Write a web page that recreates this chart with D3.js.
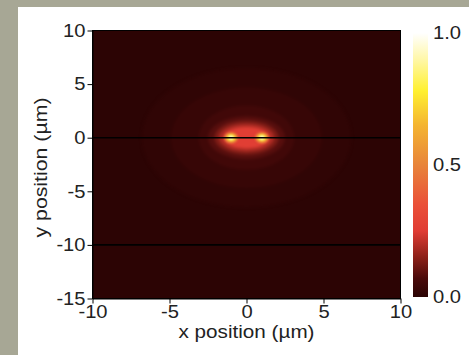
<!DOCTYPE html>
<html><head><meta charset="utf-8">
<script src="https://cdn.jsdelivr.net/npm/d3@7"></script>
<style>html,body{margin:0;padding:0;background:#a7a795;} svg{display:block}</style>
</head><body>
<svg id="chart" width="469" height="355"></svg>
<script>
// Axis domains and tick values (µm)
const xDomain = [-10, 10];
const yDomain = [-15, 10];
const xTicks = [-10, -5, 0, 5, 10];
const yTicks = [-15, -10, -5, 0, 5, 10];
const barTicks = [0, 0.5, 1];
const barTickLabels = ["0.0", "0.5", "1.0"];

// Horizontal material interfaces (y in µm)
const interfaceY = [0, -10];

// Normalised intensity: nested elliptical bands centred on the origin
const glowRx = [6.8, 4.9, 3.1, 2.5, 2.1, 1.8, 1.5];
const glowRy = [6.5, 4.7, 3.0, 2.0, 1.6, 1.3, 1.0];
const glowLevel = [0.014, 0.028, 0.05, 0.085, 0.13, 0.19, 0.26];
const backgroundLevel = 0.005;

// Two hot spots on the interface
const spotX = [-1, 1];
const spotRx = [0.44, 0.29, 0.15];
const spotRy = [0.52, 0.35, 0.2];
const spotLevel = [0.5, 0.76, 0.95];

// Colour map stops
const cmapPos = [0, 0.07, 0.15, 0.25, 0.35, 0.5, 0.65, 0.78, 0.9, 1];
const cmapColor = ["#2a0404", "#4a0a0a", "#8c2018", "#e03c34", "#ea5038",
                   "#e8843a", "#f4b430", "#fff030", "#fff7a8", "#ffffff"];

const W = 469, H = 355;
const plot = {left: 92.5, right: 400.5, top: 30.5, bottom: 298.5};
const bar = {left: 413, right: 428, top: 33, bottom: 297};
const FONT = "'Liberation Sans', Arial, sans-serif";
const STRETCH = 1.12;

const svg = d3.select("#chart");
const x = d3.scaleLinear().domain(xDomain).range([plot.left, plot.right]);
const y = d3.scaleLinear().domain(yDomain).range([plot.bottom, plot.top]);
const color = d3.scaleLinear().domain(cmapPos).range(cmapColor).interpolate(d3.interpolateRgb).clamp(true);

// White panel on the grey page
svg.append("rect").attr("x", 18).attr("y", 7).attr("width", W - 18).attr("height", H - 7).attr("fill", "#ffffff");

const defs = svg.append("defs");
defs.append("clipPath").attr("id", "plotClip")
  .append("rect").attr("x", plot.left).attr("y", plot.top)
  .attr("width", plot.right - plot.left).attr("height", plot.bottom - plot.top);
defs.append("filter").attr("id", "soft").attr("x", "-50%").attr("y", "-50%").attr("width", "200%").attr("height", "200%")
  .attr("color-interpolation-filters", "sRGB")
  .append("feGaussianBlur").attr("stdDeviation", 1.6);
defs.append("filter").attr("id", "softSpot").attr("x", "-100%").attr("y", "-100%").attr("width", "300%").attr("height", "300%")
  .attr("color-interpolation-filters", "sRGB")
  .append("feGaussianBlur").attr("stdDeviation", 0.8);

const field = svg.append("g").attr("clip-path", "url(#plotClip)");
field.append("rect").attr("x", plot.left).attr("y", plot.top)
  .attr("width", plot.right - plot.left).attr("height", plot.bottom - plot.top)
  .attr("fill", color(backgroundLevel));

const glow = glowRx.map((rx, i) => ({rx, ry: glowRy[i], v: glowLevel[i]}));
field.append("g").attr("filter", "url(#soft)")
  .selectAll("ellipse").data(glow).join("ellipse")
  .attr("cx", x(0)).attr("cy", y(0))
  .attr("rx", d => x(d.rx) - x(0))
  .attr("ry", d => y(0) - y(d.ry))
  .attr("fill", d => color(d.v));

const spots = [];
spotX.forEach(cx => spotRx.forEach((rx, i) => spots.push({cx, rx, ry: spotRy[i], v: spotLevel[i]})));
field.append("g").attr("filter", "url(#softSpot)")
  .selectAll("ellipse").data(spots).join("ellipse")
  .attr("cx", d => x(d.cx)).attr("cy", y(0))
  .attr("rx", d => x(d.rx) - x(0))
  .attr("ry", d => y(0) - y(d.ry))
  .attr("fill", d => color(d.v));

field.selectAll("line.iface").data(interfaceY).join("line").attr("class", "iface")
  .attr("x1", plot.left).attr("x2", plot.right)
  .attr("y1", d => y(d)).attr("y2", d => y(d))
  .attr("stroke", "#000").attr("stroke-width", 1.6);

svg.append("rect").attr("x", plot.left).attr("y", plot.top)
  .attr("width", plot.right - plot.left).attr("height", plot.bottom - plot.top)
  .attr("fill", "none").attr("stroke", "#000").attr("stroke-width", 1);

// Axes
const xAxis = svg.append("g").attr("transform", `translate(0,${plot.bottom})`)
  .call(d3.axisBottom(x).tickValues(xTicks).tickFormat(d3.format("d")).tickSize(5).tickSizeOuter(0).tickPadding(2));
const yAxis = svg.append("g").attr("transform", `translate(${plot.left},0)`)
  .call(d3.axisLeft(y).tickValues(yTicks).tickFormat(d3.format("d")).tickSize(5).tickSizeOuter(0).tickPadding(2));
[xAxis, yAxis].forEach(a => {
  a.selectAll("path, line").attr("stroke", "#000");
  a.selectAll("text").attr("fill", "#222").style("font-family", FONT).style("font-size", "18px");
});
xAxis.selectAll("text").text(d => d < 0 ? "-" + Math.abs(d) : d);
yAxis.selectAll("text").text(d => d < 0 ? "-" + Math.abs(d) : d);

// Colour bar
const grad = defs.append("linearGradient").attr("id", "cbar")
  .attr("x1", 0).attr("y1", 1).attr("x2", 0).attr("y2", 0);
grad.selectAll("stop").data(cmapPos).join("stop")
  .attr("offset", d => d).attr("stop-color", (d, i) => cmapColor[i]);
svg.append("rect").attr("x", bar.left).attr("y", bar.top)
  .attr("width", bar.right - bar.left).attr("height", bar.bottom - bar.top)
  .attr("fill", "url(#cbar)");
const cb = d3.scaleLinear().domain([0, 1]).range([bar.bottom, bar.top]);
svg.append("g").selectAll("text").data(barTicks).join("text")
  .attr("x", 433).attr("y", d => cb(d)).attr("dy", "0.36em")
  .attr("fill", "#222").style("font-family", FONT).style("font-size", "18px")
  .text((d, i) => barTickLabels[i]);

// Axis titles
svg.append("text").attr("x", (plot.left + plot.right) / 2).attr("y", 338)
  .attr("text-anchor", "middle").attr("fill", "#222")
  .style("font-family", FONT).style("font-size", "18px")
  .attr("textLength", 136).attr("lengthAdjust", "spacingAndGlyphs")
  .text("x position (µm)");
svg.append("text").attr("transform", `translate(47,${(plot.top + plot.bottom) / 2 + 3}) rotate(-90)`)
  .attr("text-anchor", "middle").attr("fill", "#222")
  .style("font-family", FONT).style("font-size", "18px")
  .attr("textLength", 140).attr("lengthAdjust", "spacingAndGlyphs")
  .text("y position (µm)");

// Slightly wide glyphs for the numeric labels
svg.selectAll("g text").each(function () {
  const len = this.getComputedTextLength();
  d3.select(this).attr("textLength", len * STRETCH).attr("lengthAdjust", "spacingAndGlyphs");
});
</script>
</body></html>
